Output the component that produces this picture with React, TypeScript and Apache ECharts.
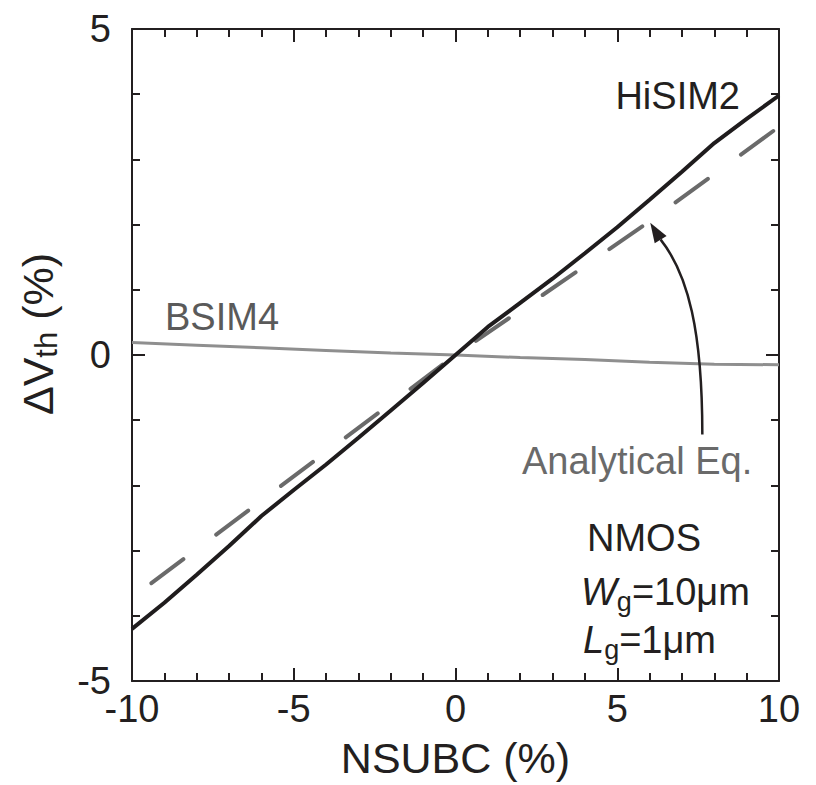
import React, { useEffect, useRef } from "react";
import * as echarts from "echarts";

const xTicks = [-10, -5, 0, 5, 10];
const yTicks = [-5, 0, 5];

const hisimX = [-10, -9, -8, -7, -6, -5, -4, -3, -2, -1, 0, 1, 2, 3, 4, 5, 6, 7, 8, 9, 10];
const hisimY = [-4.2, -3.8, -3.37, -2.93, -2.47, -2.07, -1.68, -1.27, -0.85, -0.43, 0, 0.43, 0.8, 1.17, 1.56, 1.96, 2.38, 2.81, 3.25, 3.62, 3.98];

const bsimX = [-10, -8, -6, -4, -2, 0, 2, 4, 6, 8, 10];
const bsimY = [0.19, 0.15, 0.11, 0.07, 0.03, 0.0, -0.04, -0.07, -0.11, -0.14, -0.15];

const analyticX = [-9.4, 0, 6, 10];
const analyticY = [-3.5, 0, 2.05, 3.5];

// arrow annotation (data coords): tail -> tip
const arrowTail = [7.63, -1.22];
const arrowTip = [6.02, 2.03];

const FONT = "'Liberation Sans', Arial, Helvetica, sans-serif";
const AXIS_COLOR = "#231f20";
const OFF = 8; // body margin

export default function App() {
  const ref = useRef<HTMLDivElement>(null);

  useEffect(() => {
    if (!ref.current) return;
    const chart = echarts.init(ref.current, null, { renderer: "svg" });

    const axisCommon = {
      axisLine: { show: true, onZero: false, lineStyle: { color: AXIS_COLOR, width: 2 } },
      axisTick: { show: true, inside: true, length: 13, lineStyle: { color: AXIS_COLOR, width: 2 } },
      minorTick: { show: true, splitNumber: 5, length: 8, lineStyle: { color: AXIS_COLOR, width: 2 } },
      splitLine: { show: false },
      minorSplitLine: { show: false },
    };

    const xAxisBase = { ...axisCommon, type: "value", min: xTicks[0], max: xTicks[xTicks.length - 1], interval: 5 };
    const yAxisBase = { ...axisCommon, type: "value", min: yTicks[0], max: yTicks[yTicks.length - 1], interval: 5 };

    chart.setOption({
      animation: false,
      backgroundColor: "#ffffff",
      grid: { left: 128 - OFF, right: 37, top: 29 - OFF, bottom: 104, containLabel: false },
      xAxis: [
        {
          ...xAxisBase,
          position: "bottom",
          axisLabel: { show: true, margin: 9, fontSize: 38, color: AXIS_COLOR, fontFamily: FONT },
          name: "NSUBC (%)",
          nameLocation: "middle",
          nameGap: 55,
          nameTextStyle: { fontSize: 43, color: AXIS_COLOR, fontFamily: FONT },
        },
        { ...xAxisBase, position: "top", axisLabel: { show: false } },
      ],
      yAxis: [
        {
          ...yAxisBase,
          position: "left",
          axisLabel: { show: true, margin: 21, fontSize: 38, color: AXIS_COLOR, fontFamily: FONT, padding: [0, 0, 8, 0] },
          name: "{d|Δ}{v|V}{s|th}{d| (%)}",
          nameLocation: "middle",
          nameGap: 70,
          nameTextStyle: {
            color: AXIS_COLOR,
            fontFamily: FONT,
            padding: [0, 0, 0, 42],
            rich: {
              d: { fontSize: 43, fontFamily: FONT, color: AXIS_COLOR },
              v: { fontSize: 43, fontFamily: FONT, color: AXIS_COLOR },
              s: { fontSize: 31, fontFamily: FONT, color: AXIS_COLOR, padding: [18, 0, 0, 0] },
            },
          },
        },
        { ...yAxisBase, position: "right", axisLabel: { show: false } },
      ],
      series: [
        {
          name: "BSIM4",
          type: "line",
          data: bsimX.map((x, i) => [x, bsimY[i]]),
          showSymbol: false,
          symbol: "none",
          lineStyle: { color: "#8f8f8f", width: 3 },
          z: 2,
        },
        {
          name: "Analytical Eq.",
          type: "line",
          data: analyticX.map((x, i) => [x, analyticY[i]]),
          showSymbol: false,
          symbol: "none",
          lineStyle: { color: "#6a6a6a", width: 4, type: [40, 41], cap: "round" },
          z: 3,
        },
        {
          name: "HiSIM2",
          type: "line",
          data: hisimX.map((x, i) => [x, hisimY[i]]),
          showSymbol: false,
          symbol: "none",
          lineStyle: { color: "#1f1c1d", width: 4 },
          z: 4,
        },
      ],
    });

    // Arrow annotation computed from data coordinates
    const tail = chart.convertToPixel({ gridIndex: 0 }, arrowTail) as number[];
    const tip = chart.convertToPixel({ gridIndex: 0 }, arrowTip) as number[];
    const dxv = -0.52, dyv = -0.85; // approach direction at tip
    const headLen = 20, headHalf = 7;
    const base = [tip[0] - headLen * dxv, tip[1] - headLen * dyv];
    const perp = [-dyv, dxv];
    const c1 = [tail[0], tail[1] - 103];
    const c2 = [tail[0] - 14, tail[1] - 160];

    const textStyle = (text: string, color: string) => ({
      text,
      fontSize: 38,
      fontFamily: FONT,
      fill: color,
    });

    const richSub = {
      i: { fontSize: 38, fontStyle: "italic", fontFamily: FONT, fill: "#231f20", color: "#231f20" },
      s: { fontSize: 27, fontFamily: FONT, fill: "#231f20", color: "#231f20", padding: [20, 0, 0, 0] },
      n: { fontSize: 38, fontFamily: FONT, fill: "#231f20", color: "#231f20" },
    };

    chart.setOption({
      graphic: [
        {
          type: "bezierCurve",
          shape: { x1: tail[0], y1: tail[1], cpx1: c1[0], cpy1: c1[1], cpx2: c2[0], cpy2: c2[1], x2: base[0], y2: base[1] },
          style: { stroke: "#231f20", lineWidth: 2.5, fill: "none" },
          z: 10,
        },
        {
          type: "polygon",
          shape: {
            points: [
              [tip[0], tip[1]],
              [base[0] + headHalf * perp[0], base[1] + headHalf * perp[1]],
              [base[0] - headHalf * perp[0], base[1] - headHalf * perp[1]],
            ],
          },
          style: { fill: "#231f20" },
          z: 10,
        },
        {
          type: "text",
          x: 740 - OFF,
          y: 96 - OFF,
          style: { ...textStyle("HiSIM2", "#231f20"), align: "right", verticalAlign: "middle" },
          z: 10,
        },
        {
          type: "text",
          x: 165 - OFF,
          y: 317 - OFF,
          style: { ...textStyle("BSIM4", "#5a5a5a"), align: "left", verticalAlign: "middle" },
          z: 10,
        },
        {
          type: "text",
          x: 522 - OFF,
          y: 461 - OFF,
          style: { ...textStyle("Analytical Eq.", "#6a6a6a"), align: "left", verticalAlign: "middle" },
          z: 10,
        },
        {
          type: "text",
          x: 587 - OFF,
          y: 538 - OFF,
          style: { ...textStyle("NMOS", "#231f20"), align: "left", verticalAlign: "middle" },
          z: 10,
        },
        {
          type: "text",
          x: 581 - OFF,
          y: 592 - OFF,
          style: { text: "{i|W}{s|g}{n|=10μm}", align: "left", verticalAlign: "middle", rich: richSub },
          z: 10,
        },
        {
          type: "text",
          x: 583 - OFF,
          y: 640 - OFF,
          style: { text: "{i|L}{s|g}{n|=1μm}", align: "left", verticalAlign: "middle", rich: richSub },
          z: 10,
        },
      ],
    });

    return () => chart.dispose();
  }, []);

  return <div ref={ref} style={{ width: 816 - OFF, height: 785 - OFF }} />;
}
